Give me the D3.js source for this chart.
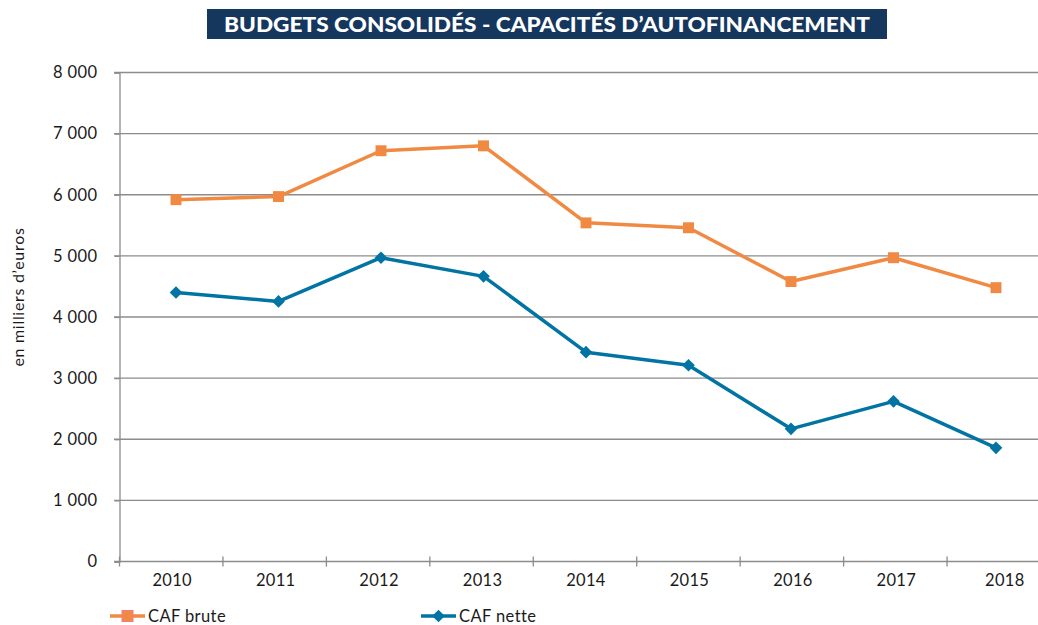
<!DOCTYPE html>
<html>
<head>
<meta charset="utf-8">
<script src="https://cdn.jsdelivr.net/npm/d3@7"></script>
<style>
  body { margin: 0; background: #fff; }
  svg { display: block; font-family: Lato, "Open Sans", sans-serif; }
</style>
</head>
<body>
<svg id="chart"></svg>
<script>
// Data
const years = ["2010", "2011", "2012", "2013", "2014", "2015", "2016", "2017", "2018"];
const cafBrute = [5920, 5970, 6720, 6800, 5540, 5460, 4580, 4970, 4480];
const cafNette = [4400, 4255, 4970, 4665, 3425, 3210, 2170, 2620, 1860];
const yTicks = [0, 1000, 2000, 3000, 4000, 5000, 6000, 7000, 8000];
const titleText = "BUDGETS CONSOLIDÉS - CAPACITÉS D’AUTOFINANCEMENT";
const yLabel = "en milliers d’euros";

const width = 1038;
const height = 625;

const svg = d3.select("#chart").attr("width", width).attr("height", height);

// Title banner
svg.append("rect")
  .attr("x", 207).attr("y", 9)
  .attr("width", 680).attr("height", 30)
  .attr("fill", "#15365d");

svg.append("text")
  .attr("x", 547).attr("y", 32)
  .attr("text-anchor", "middle")
  .attr("fill", "#fff")
  .attr("font-size", 21)
  .attr("font-weight", 900)
  .attr("textLength", 646)
  .attr("lengthAdjust", "spacingAndGlyphs")
  .text(titleText);

// Scales
const yScale = d3.scaleLinear().domain([0, 8000]).range([561.5, 72.5]);
// band scale for the category axis (plot runs past the right edge of the picture)
const xBand = d3.scaleBand().domain(years).range([119.5, 1050.5]).padding(0);
// markers sit slightly right of band centres in the original
const xPoint = d3.scalePoint().domain(years).range([176, 996]);

// Grid lines
svg.append("g")
  .selectAll("line")
  .data(yTicks.filter(d => d > 0))
  .join("line")
  .attr("x1", 114).attr("x2", width)
  .attr("y1", d => yScale(d)).attr("y2", d => yScale(d))
  .attr("stroke", "#8c8c8c")
  .attr("stroke-width", 1.3);

// Y axis
const yAxis = d3.axisLeft(yScale)
  .tickValues(yTicks)
  .tickSize(5)
  .tickPadding(17)
  .tickFormat(d => d3.format(",")(d).replace(",", " "));

svg.append("g")
  .attr("transform", "translate(119.5,0)")
  .call(yAxis)
  .call(g => g.select(".domain").attr("stroke", "#8c8c8c").attr("stroke-width", 1.3))
  .call(g => g.selectAll(".tick line").attr("stroke", "#8c8c8c").attr("stroke-width", 1.3))
  .call(g => g.selectAll(".tick text")
    .attr("fill", "#1a1a1a")
    .attr("font-size", 16.5)
    .attr("letter-spacing", 0.4)
    .attr("font-family", "Lato, sans-serif"));

// X axis: baseline + crossing ticks on band boundaries
svg.append("line")
  .attr("x1", 114).attr("x2", width)
  .attr("y1", yScale(0)).attr("y2", yScale(0))
  .attr("stroke", "#8c8c8c").attr("stroke-width", 1.3);

svg.append("g")
  .selectAll("line")
  .data(years)
  .join("line")
  .attr("x1", d => xBand(d)).attr("x2", d => xBand(d))
  .attr("y1", yScale(0) - 5).attr("y2", yScale(0) + 5)
  .attr("stroke", "#8c8c8c").attr("stroke-width", 1.3);

svg.append("g")
  .selectAll("text")
  .data(years)
  .join("text")
  .attr("x", (d, i) => xBand(d) + xBand.bandwidth() / 2 + (i === years.length - 1 ? 6 : 1))
  .attr("y", 586)
  .attr("text-anchor", "middle")
  .attr("fill", "#1a1a1a")
  .attr("font-size", 16.5)
  .attr("letter-spacing", 0.3)
  .text(d => d);

// Y axis title
svg.append("text")
  .attr("transform", "translate(24,297) rotate(-90)")
  .attr("text-anchor", "middle")
  .attr("fill", "#1a1a1a")
  .attr("font-size", 16)
  .attr("letter-spacing", 0.7)
  .text(yLabel);

// Lines
const series = [
  { name: "CAF brute", values: cafBrute, color: "#f08a43", marker: "square" },
  { name: "CAF nette", values: cafNette, color: "#0274a3", marker: "diamond" },
];

const lineGenerator = d3.line()
  .x((d, i) => xPoint(years[i]))
  .y(d => yScale(d));

const squareSym = d3.symbol().type(d3.symbolSquare).size(120);
const diamondSym = d3.symbol().type(d3.symbolSquare).size(80);

series.forEach(s => {
  svg.append("path")
    .datum(s.values)
    .attr("d", lineGenerator)
    .attr("fill", "none")
    .attr("stroke", s.color)
    .attr("stroke-width", 3.5)
    .attr("stroke-linejoin", "round");

  svg.append("g")
    .selectAll("path")
    .data(s.values)
    .join("path")
    .attr("d", s.marker === "square" ? squareSym : diamondSym)
    .attr("transform", (d, i) => `translate(${xPoint(years[i])},${yScale(d)})` + (s.marker === "diamond" ? " rotate(45)" : ""))
    .attr("fill", s.color);
});

// Legend
const legend = svg.append("g");
const legendItems = [
  { x: 110, s: series[0] },
  { x: 421, s: series[1] },
];

legendItems.forEach(({ x, s }) => {
  const g = legend.append("g").attr("transform", `translate(${x},616)`);
  g.append("line")
    .attr("x1", 0).attr("x2", 35)
    .attr("stroke", s.color).attr("stroke-width", 3.5);
  if (s.marker === "square") {
    g.append("rect")
      .attr("x", 12).attr("y", -5.5)
      .attr("width", 11).attr("height", 11)
      .attr("fill", s.color)
      .attr("stroke", "#f27c8c").attr("stroke-width", 1);
  } else {
    g.append("path")
      .attr("d", diamondSym)
      .attr("transform", "translate(17.5,0) rotate(45)")
      .attr("fill", s.color);
  }
  g.append("text")
    .attr("x", 38).attr("y", 5.5)
    .attr("fill", "#1a1a1a")
    .attr("font-size", 16.5)
    .attr("letter-spacing", 0.4)
    .text(s.name);
});
</script>
</body>
</html>
